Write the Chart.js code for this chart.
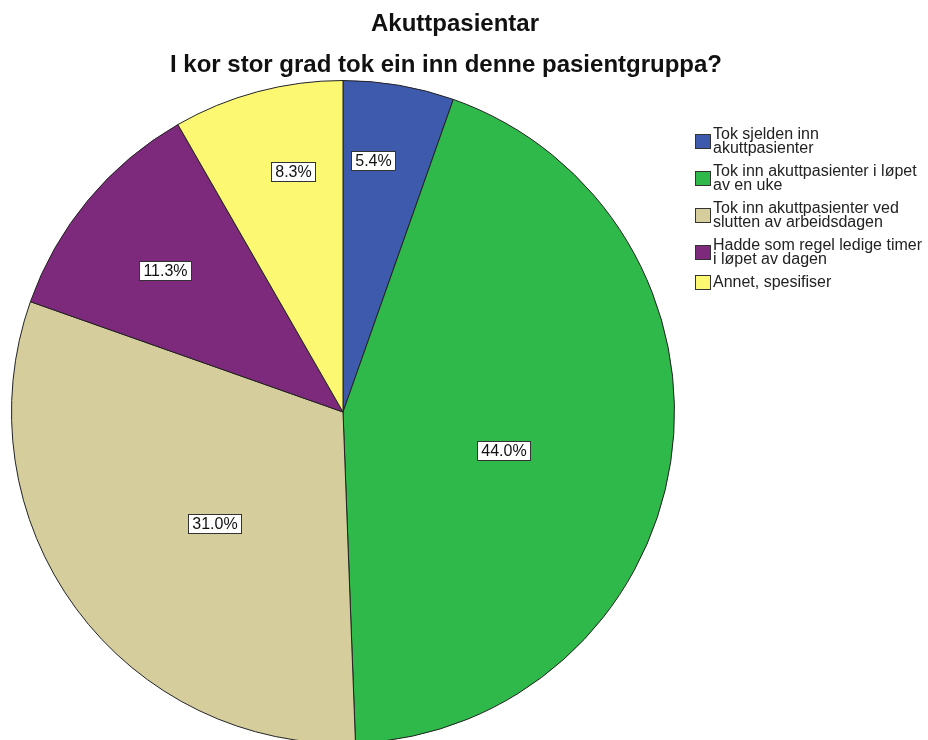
<!DOCTYPE html>
<html>
<head>
<meta charset="utf-8">
<script src="https://cdn.jsdelivr.net/npm/chart.js@4/dist/chart.umd.min.js"></script>
<style>
  html, body { margin: 0; padding: 0; background: #ffffff; overflow: hidden; }
  canvas { display: block; }
</style>
</head>
<body>
<canvas id="pieChart" width="928" height="744"></canvas>
<script>
// Data
const titleLines = ['Akuttpasientar', 'I kor stor grad tok ein inn denne pasientgruppa?'];
const categories = [
    'Tok sjelden inn akuttpasienter',
    'Tok inn akuttpasienter i løpet av en uke',
    'Tok inn akuttpasienter ved slutten av arbeidsdagen',
    'Hadde som regel ledige timer i løpet av dagen',
    'Annet, spesifiser'
];
const legendLines = [
    ['Tok sjelden inn', 'akuttpasienter'],
    ['Tok inn akuttpasienter i løpet', 'av en uke'],
    ['Tok inn akuttpasienter ved', 'slutten av arbeidsdagen'],
    ['Hadde som regel ledige timer', 'i løpet av dagen'],
    ['Annet, spesifiser']
];
const percentages = [5.4, 44.0, 31.0, 11.3, 8.3];

// Styles
const sliceColors = ['#3e5aad', '#2fb94a', '#d5cd9b', '#7d2a7d', '#fcf871'];
// where each % box sits: fraction of the slice's sweep and fraction of the radius
const labelAngleFrac = [0.35, 0.53, 0.46, 0.47, 0.61];
const labelRadiusFrac = [0.765, 0.497, 0.513, 0.685, 0.742];
const FONT = "'Liberation Sans', Arial, sans-serif";

// percent boxes inside the slices
const sliceLabels = {
    id: 'sliceLabels',
    afterDatasetsDraw(chart) {
        const ctx = chart.ctx;
        const meta = chart.getDatasetMeta(0);
        ctx.save();
        ctx.font = '16px ' + FONT;
        ctx.textAlign = 'center';
        ctx.textBaseline = 'middle';
        meta.data.forEach((arc, i) => {
            const p = arc.getProps(['x', 'y', 'startAngle', 'endAngle', 'outerRadius'], true);
            const a = p.startAngle + (p.endAngle - p.startAngle) * labelAngleFrac[i];
            const r = p.outerRadius * labelRadiusFrac[i];
            const x = p.x + Math.cos(a) * r;
            const y = p.y + Math.sin(a) * r;
            const txt = percentages[i].toFixed(1) + '%';
            const w = Math.round(ctx.measureText(txt).width + 8);
            const h = 19;
            const bx = Math.round(x - w / 2) + 0.5;
            const by = Math.round(y - h / 2) + 0.5;
            ctx.fillStyle = '#ffffff';
            ctx.fillRect(bx, by, w, h);
            ctx.strokeStyle = '#333333';
            ctx.lineWidth = 1;
            ctx.strokeRect(bx, by, w, h);
            ctx.fillStyle = '#111111';
            ctx.fillText(txt, bx + w / 2, by + h / 2 + 1);
        });
        ctx.restore();
    }
};

// two-line title + wrapped legend on the right
const titleAndLegend = {
    id: 'titleAndLegend',
    afterDraw(chart) {
        const ctx = chart.ctx;
        ctx.save();
        ctx.fillStyle = '#111111';
        ctx.textAlign = 'center';
        ctx.textBaseline = 'alphabetic';
        ctx.font = 'bold 24px ' + FONT;
        ctx.fillText(titleLines[0], 455, 31);
        ctx.fillText(titleLines[1], 446, 72);

        ctx.font = '16px ' + FONT;
        ctx.textAlign = 'left';
        let base = 139;
        legendLines.forEach((lines, i) => {
            // swatch centred on the entry's text block
            const blockMid = base - 5.5 + (lines.length - 1) * 14 / 2;
            const sy = Math.round(blockMid - 7) + 0.5;
            ctx.fillStyle = sliceColors[i];
            ctx.fillRect(695.5, sy, 15, 14);
            ctx.strokeStyle = '#333333';
            ctx.lineWidth = 1;
            ctx.strokeRect(695.5, sy, 15, 14);
            ctx.fillStyle = '#222222';
            lines.forEach((line, j) => ctx.fillText(line, 713, base + j * 14));
            base += 37;
        });
        ctx.restore();
    }
};

const ctx = document.getElementById('pieChart').getContext('2d');
new Chart(ctx, {
    type: 'pie',
    data: {
        labels: categories,
        datasets: [{
            data: percentages,
            backgroundColor: sliceColors,
            borderColor: '#222222',
            borderWidth: 1
        }]
    },
    options: {
        responsive: false,
        animation: false,
        layout: {
            padding: { left: 11, right: 253, top: 80, bottom: 0 }
        },
        plugins: {
            legend: { display: false },
            title: { display: false },
            tooltip: { enabled: false }
        }
    },
    plugins: [sliceLabels, titleAndLegend]
});
</script>
</body>
</html>
